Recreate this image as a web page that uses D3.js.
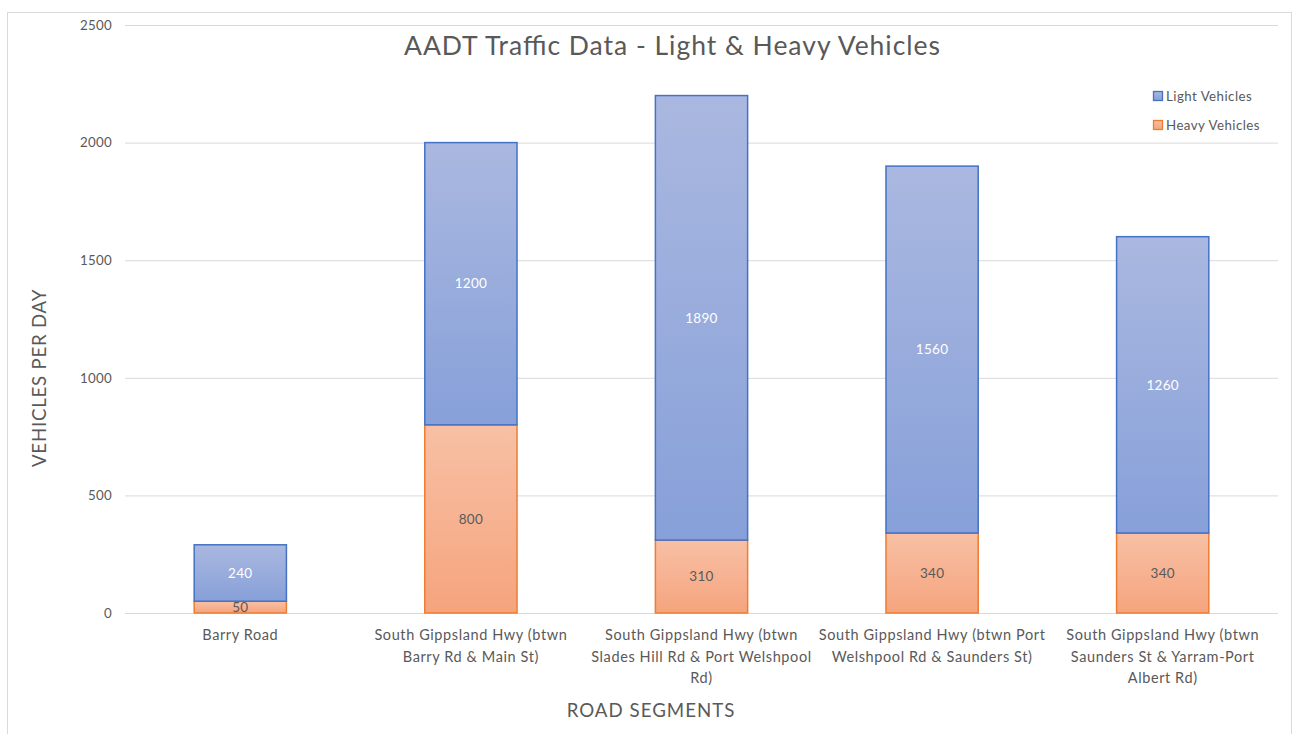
<!DOCTYPE html>
<html><head><meta charset="utf-8">
<script src="https://cdn.jsdelivr.net/npm/d3@7"></script>
<style>body{margin:0;background:#fff;}svg{display:block;font-family:Lato,"Open Sans",sans-serif;}</style>
</head><body>
<svg id="c" width="1293" height="734"></svg>
<script>
const categories = [
  ["Barry Road"],
  ["South Gippsland Hwy (btwn", "Barry Rd & Main St)"],
  ["South Gippsland Hwy (btwn", "Slades Hill Rd & Port Welshpool", "Rd)"],
  ["South Gippsland Hwy (btwn Port", "Welshpool Rd & Saunders St)"],
  ["South Gippsland Hwy (btwn", "Saunders St & Yarram-Port", "Albert Rd)"]
];
const heavyVehicles = [50, 800, 310, 340, 340];
const lightVehicles = [240, 1200, 1890, 1560, 1260];
const yTicks = [0, 500, 1000, 1500, 2000, 2500];
const seriesNames = ["Light Vehicles", "Heavy Vehicles"];

(function () {
const svg = d3.select("#c");
const txt = "#595959";
const grid = "#d9d9d9";

// chart border
svg.append("rect").attr("x", 7.5).attr("y", 12.5).attr("width", 1284).attr("height", 740)
  .attr("fill", "none").attr("stroke", grid).attr("stroke-width", 1);

const pLeft = 125, pRight = 1278, pTop = 25, pBottom = 613;
const x = d3.scaleBand().domain(d3.range(categories.length)).range([pLeft, pRight]).paddingInner(0.6).paddingOuter(0.3);
const y = d3.scaleLinear().domain([0, 2500]).range([pBottom, pTop]);

const defs = svg.append("defs");
const gl = defs.append("linearGradient").attr("id", "gLight").attr("x1", 0).attr("y1", 0).attr("x2", 0).attr("y2", 1);
gl.append("stop").attr("offset", "0%").attr("stop-color", "#aab8e0");
gl.append("stop").attr("offset", "100%").attr("stop-color", "#87a0d9");
const gh = defs.append("linearGradient").attr("id", "gHeavy").attr("x1", 0).attr("y1", 0).attr("x2", 0).attr("y2", 1);
gh.append("stop").attr("offset", "0%").attr("stop-color", "#f8c0a5");
gh.append("stop").attr("offset", "100%").attr("stop-color", "#f5a47d");

// gridlines
const yAxis = d3.axisLeft(y).tickValues(yTicks).tickSize(-(pRight - pLeft)).tickPadding(13).tickFormat(d3.format("d"));
const ga = svg.append("g").attr("transform", `translate(${pLeft},0)`).call(yAxis);
ga.select(".domain").remove();
ga.selectAll(".tick line").attr("stroke", grid).attr("stroke-width", 1);
ga.selectAll(".tick text").attr("fill", txt).attr("font-size", "13.3px").attr("font-family", "Lato")
  .attr("letter-spacing", "0.3px");

// bars
const bars = svg.append("g");
categories.forEach((c, i) => {
  const h = heavyVehicles[i], l = lightVehicles[i];
  bars.append("rect").attr("x", x(i)).attr("width", x.bandwidth())
    .attr("y", y(h)).attr("height", y(0) - y(h))
    .attr("fill", "url(#gHeavy)").attr("stroke", "#ed7d31").attr("stroke-width", 1.5);
  bars.append("rect").attr("x", x(i)).attr("width", x.bandwidth())
    .attr("y", y(h + l)).attr("height", y(h) - y(h + l))
    .attr("fill", "url(#gLight)").attr("stroke", "#4472c4").attr("stroke-width", 1.5);
  bars.append("text").attr("x", x(i) + x.bandwidth() / 2).attr("y", y(h / 2)).attr("dy", "0.35em")
    .attr("text-anchor", "middle").attr("font-size", "13.5px").attr("letter-spacing", "0.3px")
    .attr("fill", txt).text(h);
  bars.append("text").attr("x", x(i) + x.bandwidth() / 2).attr("y", y(h + l / 2)).attr("dy", "0.35em")
    .attr("text-anchor", "middle").attr("font-size", "13.5px").attr("letter-spacing", "0.3px")
    .attr("fill", "#ffffff").text(l);
});

// category labels
const cl = svg.append("g");
categories.forEach((lines, i) => {
  const t = cl.append("text").attr("text-anchor", "middle").attr("fill", txt)
    .attr("font-size", "14.5px").attr("letter-spacing", "0.6px");
  lines.forEach((ln, j) => {
    t.append("tspan").attr("x", x(i) + x.bandwidth() / 2).attr("y", 640 + j * 21.5).text(ln);
  });
});

// title
svg.append("text").attr("x", 672).attr("y", 55).attr("text-anchor", "middle").attr("fill", txt)
  .attr("font-size", "26.5px").attr("textLength", 536).attr("lengthAdjust", "spacing")
  .text("AADT Traffic Data - Light & Heavy Vehicles");

// axis titles
svg.append("text").attr("transform", "translate(46,378) rotate(-90)").attr("text-anchor", "middle")
  .attr("fill", txt).attr("font-size", "18.7px").attr("letter-spacing", "0.75px").text("VEHICLES PER DAY");
svg.append("text").attr("x", 651).attr("y", 717).attr("text-anchor", "middle")
  .attr("fill", txt).attr("font-size", "18.7px").attr("letter-spacing", "1px").text("ROAD SEGMENTS");

// legend
const legend = svg.append("g");
const legFill = ["url(#gLight)", "url(#gHeavy)"];
const legStroke = ["#4472c4", "#ed7d31"];
seriesNames.forEach((n, i) => {
  const cy = 96 + i * 29;
  legend.append("rect").attr("x", 1153.5).attr("y", cy - 4.5).attr("width", 9).attr("height", 9)
    .attr("fill", legFill[i]).attr("stroke", legStroke[i]).attr("stroke-width", 1.3);
  legend.append("text").attr("x", 1166).attr("y", cy).attr("dy", "0.35em").attr("fill", txt)
    .attr("font-size", "13.3px").attr("letter-spacing", "0.45px").text(n);
});
})();
</script>
</body></html>
